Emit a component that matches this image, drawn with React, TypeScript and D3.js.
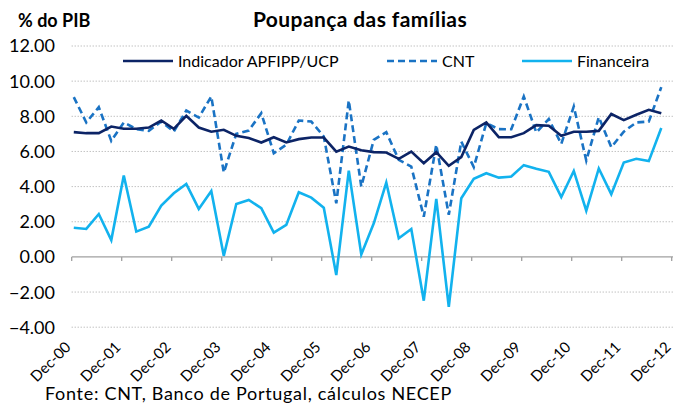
import React, { useEffect, useRef } from "react";
import * as d3 from "d3";

const tickLabels = ["Dec-00","Dec-01","Dec-02","Dec-03","Dec-04","Dec-05","Dec-06","Dec-07","Dec-08","Dec-09","Dec-10","Dec-11","Dec-12"];
const yTicks = [-4, -2, 0, 2, 4, 6, 8, 10, 12];

// quarterly values, Dec-00 .. Sep-12
const indicador = [7.10,7.04,7.04,7.42,7.29,7.29,7.36,7.76,7.29,8.03,7.36,7.12,
  7.23,6.89,6.76,6.51,6.81,6.51,6.70,6.79,6.79,5.99,6.28,6.07,
  5.96,5.94,5.58,5.99,5.33,5.96,5.18,5.68,7.23,7.65,6.81,6.81,
  7.04,7.50,7.46,6.89,7.12,7.12,7.17,8.13,7.78,8.09,8.37,8.18];
const cnt = [9.09,7.65,8.52,6.60,7.65,7.27,7.17,7.70,7.13,8.33,7.93,9.13,
  4.80,7.00,7.19,8.18,5.90,6.38,7.76,7.70,6.85,3.05,8.90,4.00,
  6.66,7.10,5.52,5.14,2.29,6.38,2.39,6.56,5.11,7.61,7.27,7.26,
  9.13,7.08,7.84,6.43,8.56,5.48,7.95,6.24,7.13,7.65,7.70,9.66];
const financeira = [1.66,1.59,2.44,0.96,4.63,1.44,1.72,2.92,3.62,4.15,2.73,3.75,
  0.06,3.01,3.24,2.77,1.38,1.82,3.68,3.37,2.80,-1.03,4.91,0.14,
  1.91,4.23,1.06,1.59,-2.49,3.30,-2.84,3.34,4.44,4.76,4.51,4.57,
  5.22,5.01,4.84,3.40,4.89,2.63,5.03,3.57,5.37,5.58,5.45,7.33];

const seriesNames = ["Indicador APFIPP/UCP", "CNT", "Financeira"];
const seriesColors = ["#0c2466", "#1a73c4", "#12b2ee"];
const seriesDash = [null, "7,4", null];

const FONT = "Lato, 'Open Sans', sans-serif";

export default function App() {
  const ref = useRef<SVGSVGElement>(null);
  useEffect(() => {
    const svg = d3.select(ref.current);
    svg.selectAll("*").remove();
    const W = 673, H = 403;
    const left = 71.7, right = 671.7, top = 46, bottom = 327.2;
    // months since Dec-00; quarterly points sit at month centres
    const x = d3.scaleLinear().domain([0, 144]).range([left, right]);
    const y = d3.scaleLinear().domain([-4, 12]).range([bottom, top]);
    const px = (i: number) => x(i * 3 + 0.5);

    svg.append("rect").attr("width", W).attr("height", H).attr("fill", "#fff");

    // gridlines
    const g = svg.append("g");
    yTicks.filter(v => v !== 0).forEach(v => {
      g.append("line").attr("x1", left).attr("x2", W).attr("y1", y(v)).attr("y2", y(v))
        .attr("stroke", "#a6a6a6").attr("stroke-width", 1).attr("stroke-dasharray", "1,2");
    });
    // y labels
    yTicks.forEach(v => {
      g.append("text").attr("x", 55).attr("y", y(v)).attr("dy", "0.36em")
        .attr("text-anchor", "end").attr("font-family", FONT).attr("font-size", 18)
        .attr("fill", "#000").text(d3.format(".2f")(v));
    });
    // zero axis with ticks
    g.append("line").attr("x1", left).attr("x2", W).attr("y1", y(0)).attr("y2", y(0))
      .attr("stroke", "#a0a0a0").attr("stroke-width", 1.3);
    tickLabels.forEach((lab, j) => {
      const tx = x(j * 12);
      g.append("line").attr("x1", tx).attr("x2", tx).attr("y1", y(0)).attr("y2", y(0) + 4)
        .attr("stroke", "#a0a0a0").attr("stroke-width", 1.3);
      g.append("text")
        .attr("transform", `translate(${tx},${348}) rotate(-45)`)
        .attr("text-anchor", "end").attr("font-family", FONT).attr("font-size", 15)
        .attr("fill", "#000").text(lab);
    });

    // lines
    const data = [indicador, cnt, financeira];
    const order = [2, 1, 0];
    order.forEach(si => {
      const line = d3.line<number>().x((_, i) => px(i)).y(v => y(v));
      const p = svg.append("path").attr("d", line(data[si]) as string)
        .attr("fill", "none").attr("stroke", seriesColors[si]).attr("stroke-width", 2.6)
        .attr("stroke-linejoin", "miter");
      if (seriesDash[si]) p.attr("stroke-dasharray", seriesDash[si] as string);
    });

    // legend
    const legX = [123, 387, 522];
    seriesNames.forEach((n, i) => {
      const ly = 61;
      const l = svg.append("line").attr("x1", legX[i]).attr("x2", legX[i] + 50)
        .attr("y1", ly).attr("y2", ly).attr("stroke", seriesColors[i]).attr("stroke-width", 2.6);
      if (seriesDash[i]) l.attr("stroke-dasharray", seriesDash[i] as string);
      svg.append("text").attr("x", legX[i] + 55).attr("y", ly).attr("dy", "0.36em")
        .attr("font-family", FONT).attr("font-size", 16).attr("fill", "#000").text(n);
    });

    // titles
    svg.append("text").attr("x", 360).attr("y", 27).attr("text-anchor", "middle")
      .attr("font-family", FONT).attr("font-weight", "bold").attr("font-size", 21)
      .attr("letter-spacing", 0.4)
      .text("Poupança das famílias");
    svg.append("text").attr("x", 18).attr("y", 27)
      .attr("font-family", FONT).attr("font-weight", "bold").attr("font-size", 18)
      .text("% do PIB");
    svg.append("text").attr("x", 45).attr("y", 400)
      .attr("font-family", FONT).attr("font-size", 18).attr("letter-spacing", 0.7)
      .text("Fonte: CNT, Banco de Portugal, cálculos NECEP");
  }, []);
  return (
    <svg ref={ref} width={673} height={403}
      style={{ position: "absolute", left: 0, top: 0, display: "block" }} />
  );
}
